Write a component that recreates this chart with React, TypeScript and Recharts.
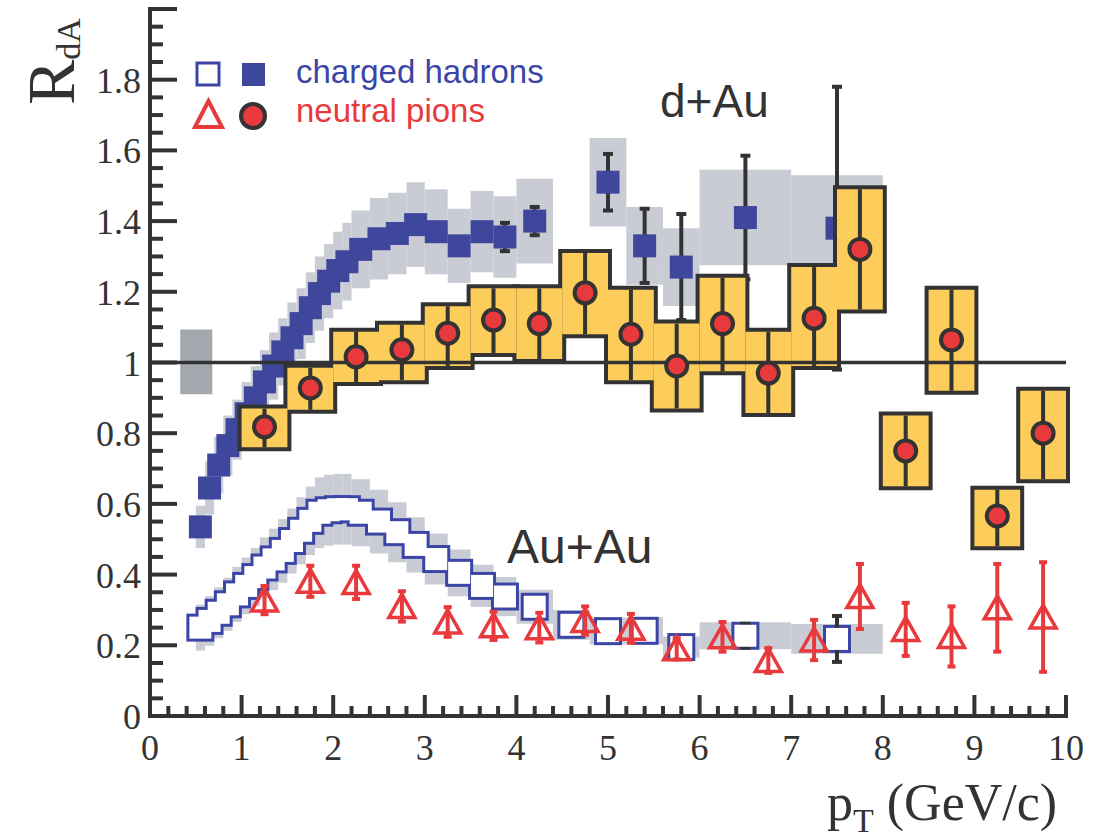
import { ComposedChart, ErrorBar, ReferenceArea, ReferenceLine, Scatter, XAxis, YAxis } from "recharts";

const SERIF = "'Liberation Serif', 'Times New Roman', serif";
const SANS = "'Liberation Sans', Arial, sans-serif";
const INK = "#333333";
const BLUE = "#3f479d";
const BLUE_OPEN = "#3b45a5";
const BAND = "#c9ccd4";
const NORM = "#a3a7ae";
const YELLOW = "#fccd5a";
const RED = "#e8393c";

// d+Au charged hadrons (filled squares): pT, R_dA, stat error, sys half-height, bin half-width
const dauChPt = [0.55, 0.65, 0.75, 0.85, 0.95, 1.05, 1.15, 1.25, 1.35, 1.45, 1.55, 1.65, 1.75, 1.85, 1.95, 2.05, 2.15, 2.3, 2.5, 2.7, 2.9, 3.125, 3.375, 3.625, 3.875, 4.2, 5.0, 5.4, 5.8, 6.5, 7.5];
const dauChR = [0.535, 0.645, 0.71, 0.765, 0.81, 0.855, 0.9, 0.945, 0.99, 1.03, 1.07, 1.11, 1.155, 1.195, 1.23, 1.26, 1.285, 1.32, 1.35, 1.365, 1.39, 1.37, 1.33, 1.37, 1.355, 1.4, 1.51, 1.33, 1.27, 1.41, 1.38];
const dauChStat = [0, 0, 0, 0, 0, 0, 0, 0, 0, 0, 0, 0, 0, 0, 0, 0, 0, 0, 0, 0, 0, 0, 0, 0, 0.04, 0.04, 0.08, 0.105, 0.15, 0.175, 0.4];
const dauChSys = [0.06, 0.075, 0.08, 0.085, 0.085, 0.09, 0.09, 0.09, 0.095, 0.095, 0.1, 0.1, 0.1, 0.105, 0.105, 0.11, 0.11, 0.11, 0.115, 0.115, 0.12, 0.12, 0.105, 0.115, 0.115, 0.12, 0.125, 0.11, 0.11, 0.135, 0.15];
const dauChBin = [0.05, 0.05, 0.05, 0.05, 0.05, 0.05, 0.05, 0.05, 0.05, 0.05, 0.05, 0.05, 0.05, 0.05, 0.05, 0.05, 0.05, 0.1, 0.1, 0.1, 0.1, 0.125, 0.125, 0.125, 0.125, 0.2, 0.2, 0.2, 0.2, 0.5, 0.5];

// Au+Au charged hadrons (open squares)
const auauChPt = [0.55, 0.65, 0.75, 0.85, 0.95, 1.05, 1.15, 1.25, 1.35, 1.45, 1.55, 1.65, 1.75, 1.85, 1.95, 2.05, 2.15, 2.3, 2.5, 2.7, 2.9, 3.125, 3.375, 3.625, 3.875, 4.2, 4.6, 5.0, 5.4, 5.8, 6.5, 7.5];
const auauChR = [0.25, 0.269, 0.292, 0.316, 0.344, 0.368, 0.393, 0.42, 0.443, 0.467, 0.495, 0.524, 0.552, 0.575, 0.582, 0.585, 0.585, 0.575, 0.55, 0.52, 0.484, 0.444, 0.405, 0.368, 0.338, 0.309, 0.258, 0.24, 0.241, 0.195, 0.227, 0.218];
const auauChStat = [0, 0, 0, 0, 0, 0, 0, 0, 0, 0, 0, 0, 0, 0, 0, 0, 0, 0, 0, 0, 0, 0, 0, 0, 0, 0, 0, 0, 0, 0, 0.034, 0.065];
const auauChSys = [0.065, 0.07, 0.072, 0.075, 0.078, 0.08, 0.082, 0.085, 0.087, 0.09, 0.092, 0.095, 0.097, 0.1, 0.1, 0.1, 0.1, 0.095, 0.09, 0.085, 0.078, 0.072, 0.066, 0.06, 0.055, 0.048, 0.042, 0.038, 0.038, 0.03, 0.038, 0.042];
const auauChBin = [0.05, 0.05, 0.05, 0.05, 0.05, 0.05, 0.05, 0.05, 0.05, 0.05, 0.05, 0.05, 0.05, 0.05, 0.05, 0.05, 0.05, 0.1, 0.1, 0.1, 0.1, 0.125, 0.125, 0.125, 0.125, 0.2, 0.2, 0.2, 0.2, 0.2, 0.5, 0.5];

// neutral pions
const pi0Pt = [1.25, 1.75, 2.25, 2.75, 3.25, 3.75, 4.25, 4.75, 5.25, 5.75, 6.25, 6.75, 7.25, 7.75, 8.25, 8.75, 9.25, 9.75];
const dauPi0R = [0.818, 0.928, 1.016, 1.036, 1.083, 1.12, 1.11, 1.197, 1.08, 0.99, 1.11, 0.97, 1.125, 1.32, 0.75, 1.064, 0.566, 0.8];
const dauPi0Lo = [0.76, 0.866, 0.945, 0.95, 0.99, 1.027, 1.01, 1.08, 0.95, 0.87, 0.975, 0.857, 0.99, 1.15, 0.65, 0.92, 0.48, 0.67];
const dauPi0Hi = [0.87, 0.985, 1.087, 1.107, 1.159, 1.21, 1.21, 1.31, 1.206, 1.11, 1.24, 1.087, 1.27, 1.49, 0.85, 1.206, 0.64, 0.92];
const pi0BoxHalf = 0.25;
const auauPi0R = [0.328, 0.381, 0.378, 0.31, 0.266, 0.255, 0.25, 0.27, 0.248, 0.19, 0.224, 0.157, 0.215, 0.338, 0.245, 0.225, 0.306, 0.28];
const auauPi0Err = [0.04, 0.044, 0.047, 0.043, 0.042, 0.04, 0.042, 0.04, 0.041, 0.03, 0.042, 0.035, 0.057, 0.092, 0.075, 0.085, 0.124, 0.155];

// normalisation uncertainty box
const normPt = [0.33, 0.68];
const normR = [0.91, 1.093];

const xTickLabels = ["0", "1", "2", "3", "4", "5", "6", "7", "8", "9", "10"];
const yTickLabels = ["0", "0.2", "0.4", "0.6", "0.8", "1", "1.2", "1.4", "1.6", "1.8"];
const xTicks = Array.from({ length: 51 }, (_, i) => Number((i * 0.2).toFixed(1)));
const yTicks = Array.from({ length: 41 }, (_, i) => Number((i * 0.05).toFixed(2)));

const dauCh = dauChPt.map((x, i) => ({
  x,
  y: dauChR[i],
  err: dauChStat[i],
  x1: x - dauChBin[i],
  x2: x + dauChBin[i],
  lo: dauChR[i] - dauChSys[i],
  hi: dauChR[i] + dauChSys[i],
}));
const auauCh = auauChPt.map((x, i) => ({
  x,
  y: auauChR[i],
  err: auauChStat[i],
  x1: x - auauChBin[i],
  x2: x + auauChBin[i],
  lo: auauChR[i] - auauChSys[i],
  hi: auauChR[i] + auauChSys[i],
}));
const dauPi0 = pi0Pt.map((x, i) => ({
  x,
  y: dauPi0R[i],
  err: [dauPi0R[i] - dauPi0Lo[i], dauPi0Hi[i] - dauPi0R[i]],
  lo: dauPi0Lo[i],
  hi: dauPi0Hi[i],
}));
const auauPi0 = pi0Pt.map((x, i) => ({ x, y: auauPi0R[i], err: auauPi0Err[i] }));

const isMajorY = (v: number) => Math.abs(v / 0.2 - Math.round(v / 0.2)) < 1e-6;

function BottomTick({ x, y, payload }: any) {
  const v = payload.value;
  const major = Number.isInteger(v);
  return (
    <g>
      <line x1={x} x2={x} y1={y} y2={y - (major ? 21 : 10)} stroke={INK} strokeWidth={4} />
      {major && (
        <text x={x} y={y + 44} textAnchor="middle" fontFamily={SERIF} fontSize={36} fill={INK}>
          {xTickLabels[v]}
        </text>
      )}
    </g>
  );
}

function TopTick({ x, y, payload }: any) {
  const major = Number.isInteger(payload.value);
  return <line x1={x} x2={x} y1={y} y2={y + (major ? 21 : 10)} stroke={INK} strokeWidth={4} />;
}

function LeftTick({ x, y, payload }: any) {
  const v = payload.value;
  const major = isMajorY(v);
  const label = major ? yTickLabels[Math.round(v / 0.2)] : undefined;
  return (
    <g>
      <line x1={x} x2={x + (major ? 27 : 13)} y1={y} y2={y} stroke={INK} strokeWidth={4} />
      {label && (
        <text x={x - 9} y={y + 13} textAnchor="end" fontFamily={SERIF} fontSize={36} fill={INK}>
          {label}
        </text>
      )}
    </g>
  );
}

function RightTick({ x, y, payload }: any) {
  const major = isMajorY(payload.value);
  return <line x1={x} x2={x - (major ? 27 : 13)} y1={y} y2={y} stroke={INK} strokeWidth={4} />;
}

const FilledSquare = (p: any) => <rect x={p.cx - 11.5} y={p.cy - 11.5} width={23} height={23} fill={BLUE} />;
const OpenSquareEdge = (p: any) => (
  <rect x={p.cx - 11} y={p.cy - 11} width={22} height={22} fill={BLUE_OPEN} stroke={BLUE_OPEN} strokeWidth={6} />
);
const OpenSquareFace = (p: any) => <rect x={p.cx - 11} y={p.cy - 11} width={22} height={22} fill="#ffffff" />;
const PionDot = (p: any) => <circle cx={p.cx} cy={p.cy} r={10.5} fill={RED} stroke={INK} strokeWidth={4} />;
const PionTriangle = (p: any) => (
  <polygon
    points={`${p.cx},${p.cy - 12} ${p.cx - 13},${p.cy + 11} ${p.cx + 13},${p.cy + 11}`}
    fill="none"
    stroke={RED}
    strokeWidth={3.5}
  />
);
const NoMarker = () => <g />;

const axisLine = { stroke: INK, strokeWidth: 4, strokeLinecap: "square" as const };

export default function App() {
  return (
    <div style={{ position: "absolute", left: 0, top: 0, width: 1096, height: 840, background: "#fff" }}>
      <ComposedChart width={1096} height={840} margin={{ top: 9, right: 30, bottom: 0, left: 0 }}>
        <XAxis
          xAxisId="b"
          dataKey="x"
          type="number"
          domain={[0, 10]}
          allowDataOverflow
          ticks={xTicks}
          interval={0}
          tickSize={0}
          tickMargin={0}
          height={124}
          tick={BottomTick}
          tickLine={false}
          axisLine={axisLine}
        />
        <XAxis
          xAxisId="t"
          orientation="top"
          dataKey="x"
          type="number"
          domain={[0, 10]}
          allowDataOverflow
          ticks={xTicks}
          interval={0}
          tickSize={0}
          tickMargin={0}
          height={0}
          tick={TopTick}
          tickLine={false}
          axisLine={axisLine}
        />
        <YAxis
          yAxisId="l"
          dataKey="y"
          type="number"
          domain={[0, 2]}
          allowDataOverflow
          ticks={yTicks}
          interval={0}
          tickSize={0}
          tickMargin={0}
          width={150}
          tick={LeftTick}
          tickLine={false}
          axisLine={axisLine}
        />
        <YAxis
          yAxisId="r"
          orientation="right"
          dataKey="y"
          type="number"
          domain={[0, 2]}
          allowDataOverflow
          ticks={yTicks}
          interval={0}
          tickSize={0}
          tickMargin={0}
          width={0}
          tick={RightTick}
          tickLine={false}
          axisLine={axisLine}
        />

        <ReferenceArea
          xAxisId="b"
          yAxisId="l"
          x1={normPt[0]}
          x2={normPt[1]}
          y1={normR[0]}
          y2={normR[1]}
          fill={NORM}
          fillOpacity={1}
          zIndex={101}
        />
        {dauCh.map((d, i) => (
          <ReferenceArea
            key={`db${i}`}
            xAxisId="b"
            yAxisId="l"
            x1={d.x1}
            x2={d.x2}
            y1={d.lo}
            y2={d.hi}
            fill={BAND}
            fillOpacity={1}
            zIndex={102}
          />
        ))}
        {auauCh.map((d, i) => (
          <ReferenceArea
            key={`ab${i}`}
            xAxisId="b"
            yAxisId="l"
            x1={d.x1}
            x2={d.x2}
            y1={d.lo}
            y2={d.hi}
            fill={BAND}
            fillOpacity={1}
            zIndex={102}
          />
        ))}

        <Scatter
          xAxisId="b"
          yAxisId="l"
          data={dauCh.filter((d) => d.err > 0)}
          shape={NoMarker}
          isAnimationActive={false}
          zIndex={103}
        >
          <ErrorBar dataKey="err" direction="y" width={5} stroke={INK} strokeWidth={4} isAnimationActive={false} zIndex={103} />
        </Scatter>
        <Scatter xAxisId="b" yAxisId="l" data={dauCh} shape={FilledSquare} isAnimationActive={false} zIndex={104} />

        <Scatter xAxisId="b" yAxisId="l" data={auauCh} shape={OpenSquareEdge} isAnimationActive={false} zIndex={105} />
        <Scatter
          xAxisId="b"
          yAxisId="l"
          data={auauCh.filter((d) => d.err > 0)}
          shape={NoMarker}
          isAnimationActive={false}
          zIndex={106}
        >
          <ErrorBar dataKey="err" direction="y" width={5} stroke={INK} strokeWidth={4} isAnimationActive={false} zIndex={106} />
        </Scatter>
        <Scatter xAxisId="b" yAxisId="l" data={auauCh} shape={OpenSquareFace} isAnimationActive={false} zIndex={107} />

        {dauPi0.map((d, i) => (
          <ReferenceArea
            key={`po${i}`}
            xAxisId="b"
            yAxisId="l"
            x1={d.x - pi0BoxHalf}
            x2={d.x + pi0BoxHalf}
            y1={d.lo}
            y2={d.hi}
            fill={INK}
            fillOpacity={1}
            stroke={INK}
            strokeWidth={8}
            zIndex={108}
          />
        ))}
        {dauPi0.map((d, i) => (
          <ReferenceArea
            key={`pf${i}`}
            xAxisId="b"
            yAxisId="l"
            x1={d.x - pi0BoxHalf}
            x2={d.x + pi0BoxHalf}
            y1={d.lo}
            y2={d.hi}
            fill={YELLOW}
            fillOpacity={1}
            zIndex={109}
          />
        ))}

        <ReferenceLine xAxisId="b" yAxisId="l" y={1} stroke={INK} strokeWidth={3.5} zIndex={110} />

        <Scatter xAxisId="b" yAxisId="l" data={dauPi0} shape={NoMarker} isAnimationActive={false} zIndex={111}>
          <ErrorBar dataKey="err" direction="y" width={0} stroke={INK} strokeWidth={4} isAnimationActive={false} zIndex={111} />
        </Scatter>
        <Scatter xAxisId="b" yAxisId="l" data={dauPi0} shape={PionDot} isAnimationActive={false} zIndex={112} />

        <Scatter xAxisId="b" yAxisId="l" data={auauPi0} shape={NoMarker} isAnimationActive={false} zIndex={113}>
          <ErrorBar dataKey="err" direction="y" width={4} stroke={RED} strokeWidth={4} isAnimationActive={false} zIndex={113} />
        </Scatter>
        <Scatter xAxisId="b" yAxisId="l" data={auauPi0} shape={PionTriangle} isAnimationActive={false} zIndex={114} />
      </ComposedChart>

      <svg
        width={1096}
        height={840}
        style={{ position: "absolute", left: 0, top: 0, pointerEvents: "none" }}
      >
        <text transform="rotate(-90)" x={-105} y={74} fontFamily={SERIF} fontSize={68} fill={INK}>
          R
          <tspan dy={6} fontSize={34}>
            dA
          </tspan>
        </text>
        <text x={827} y={820} fontFamily={SERIF} fontSize={52} fill={INK}>
          p
          <tspan dy={12} fontSize={34}>
            T
          </tspan>
          <tspan dy={-12} fontSize={52}>
            {" (GeV/c)"}
          </tspan>
        </text>

        <rect x={197} y={63} width={22} height={22} fill="none" stroke={BLUE_OPEN} strokeWidth={3} />
        <rect x={242} y={63} width={23} height={23} fill={BLUE} />
        <text x={296} y={83} fontFamily={SANS} fontSize={33} fill={BLUE_OPEN}>
          charged hadrons
        </text>
        <polygon points="208.5,101 195,127 222,127" fill="none" stroke={RED} strokeWidth={4} />
        <circle cx={253} cy={116} r={12} fill={RED} stroke={INK} strokeWidth={4} />
        <text x={296} y={122} fontFamily={SANS} fontSize={33} fill={RED}>
          neutral pions
        </text>

        <text x={660} y={117} fontFamily={SANS} fontSize={46} fill={INK}>
          d+Au
        </text>
        <text x={507} y={563} fontFamily={SANS} fontSize={48} fill={INK}>
          Au+Au
        </text>
      </svg>
    </div>
  );
}
